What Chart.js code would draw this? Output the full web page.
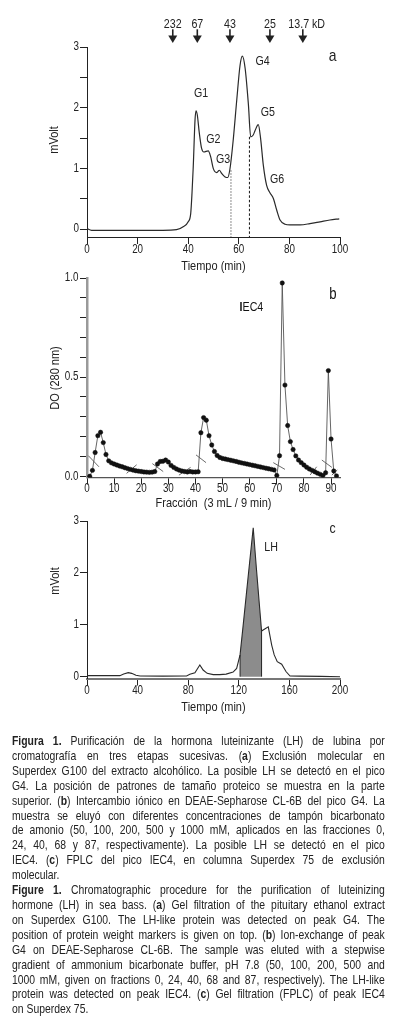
<!DOCTYPE html>
<html>
<head>
<meta charset="utf-8">
<script src="https://cdn.jsdelivr.net/npm/chart.js@4.4.1/dist/chart.umd.min.js"></script>
<style>
  body { margin: 0; background: #fff; width: 397px; height: 1035px; position: relative; overflow: hidden;
         font-family: "Liberation Sans", Arial, sans-serif; color: #222; }
  canvas { position: absolute; left: 0; }
  /* Liberation Sans squeezed to the width of Arial Narrow */
  #caption { position: absolute; left: 12px; top: 734px; width: 466px; font-size: 13px; line-height: 14.9px;
             transform: scaleX(0.8); transform-origin: 0 0; }
  #caption div { text-align: justify; text-align-last: justify; }
  #caption div.last { text-align-last: left; }
</style>
</head>
<body>
<canvas id="chartA" width="397" height="280" style="top:0px"></canvas>
<canvas id="chartB" width="397" height="250" style="top:262px"></canvas>
<canvas id="chartC" width="397" height="220" style="top:508px"></canvas>

<div id="caption">
  <div><b>Figura 1.</b> Purificación de la hormona luteinizante (LH) de lubina por</div>
  <div>cromatografía en tres etapas sucesivas. (<b>a</b>) Exclusión molecular en</div>
  <div>Superdex G100 del extracto alcohólico. La posible LH se detectó en el pico</div>
  <div>G4. La posición de patrones de tamaño proteico se muestra en la parte</div>
  <div>superior. (<b>b</b>) Intercambio iónico en DEAE-Sepharose CL-6B del pico G4. La</div>
  <div>muestra se eluyó con diferentes concentraciones de tampón bicarbonato</div>
  <div>de amonio (50, 100, 200, 500 y 1000 mM, aplicados en las fracciones 0,</div>
  <div>24, 40, 68 y 87, respectivamente). La posible LH se detectó en el pico</div>
  <div>IEC4. (<b>c</b>) FPLC del pico IEC4, en columna Superdex 75 de exclusión</div>
  <div class="last">molecular.</div>
  <div><b>Figure 1.</b> Chromatographic procedure for the purification of luteinizing</div>
  <div>hormone (LH) in sea bass. (<b>a</b>) Gel filtration of the pituitary ethanol extract</div>
  <div>on Superdex G100. The LH-like protein was detected on peak G4. The</div>
  <div>position of protein weight markers is given on top. (<b>b</b>) Ion-exchange of peak</div>
  <div>G4 on DEAE-Sepharose CL-6B. The sample was eluted with a stepwise</div>
  <div>gradient of ammonium bicarbonate buffer, pH 7.8 (50, 100, 200, 500 and</div>
  <div>1000 mM, given on fractions 0, 24, 40, 68 and 87, respectively). The LH-like</div>
  <div>protein was detected on peak IEC4. (<b>c</b>) Gel filtration (FPLC) of peak IEC4</div>
  <div class="last">on Superdex 75.</div>
</div>

<script>
// ---- panel a: Superdex G100 ----
const timeA = [0, 1.8, 10, 20, 30, 35.4, 38, 40, 41, 41.5, 42, 42.7, 43.1, 43.6, 44.4, 45.3, 46.2, 47.9, 48.9, 49.9,
  51.3, 52.3, 53.2, 54.6, 55.6, 56.5, 57.8, 59.2, 60.5, 61.4, 62.5, 63.8, 64.7, 65.7, 66.4, 67.7, 68.6, 69.7,
  71, 72.3, 73.7, 75, 76.3, 78.3, 80.2, 84.2, 88.1, 92.1, 96, 99.7];
const mvoltA = [0.01, -0.02, -0.02, -0.02, -0.02, -0.01, 0.04, 0.12, 0.26, 0.59, 1.03, 1.8, 1.95, 1.88, 1.58, 1.33, 1.27, 1.29, 1.19, 1.0,
  0.93, 0.97, 0.92, 0.86, 0.85, 0.99, 1.47, 2.13, 2.7, 2.85, 2.65, 2.05, 1.52, 1.55, 1.62, 1.72, 1.5, 1.05,
  0.72, 0.6, 0.5, 0.31, 0.15, 0.08, 0.07, 0.07, 0.09, 0.12, 0.15, 0.17];
const cutTime = [56.9, 64.2];
const cutTop = [0.97, 1.52];
const markerKd = ['232', '67', '43', '25', '13.7 kD'];
const markerTime = [33.9, 43.6, 56.5, 72.3, 85.3];
const peakNames = ['G1', 'G2', 'G3', 'G4', 'G5', 'G6'];
const peakLabelX = [45.1, 49.9, 53.8, 69.4, 71.5, 75.1];
const peakLabelY = [2.24, 1.47, 1.14, 2.77, 1.93, 0.82];

// ---- panel b: DEAE-Sepharose ----
const fractionB = [1, 2, 3, 4, 5, 6, 7, 8, 9, 10, 11, 12, 13, 14, 15, 16, 17, 18, 19, 20, 21, 22, 23, 24, 25, 26, 27, 28, 29, 30,
  31, 32, 33, 34, 35, 36, 37, 38, 39, 40, 41, 42, 43, 44, 45, 46, 47, 48, 49, 50, 51, 52, 53, 54, 55, 56, 57, 58, 59, 60,
  61, 62, 63, 64, 65, 66, 67, 68, 69, 70, 71, 72, 73, 74, 75, 76, 77, 78, 79, 80, 81, 82, 83, 84, 85, 86, 87, 88, 89, 90, 91, 92];
const odB = [0.000, 0.030, 0.120, 0.205, 0.222, 0.170, 0.110, 0.078, 0.068, 0.062, 0.057, 0.052, 0.048, 0.043, 0.039, 0.035,
  0.031, 0.028, 0.026, 0.024, 0.022, 0.021, 0.020, 0.021, 0.024, 0.062, 0.075, 0.076, 0.082, 0.072, 0.055, 0.045, 0.037,
  0.031, 0.027, 0.024, 0.022, 0.024, 0.022, 0.022, 0.023, 0.220, 0.296, 0.283, 0.205, 0.158, 0.125, 0.105, 0.095, 0.090,
  0.087, 0.084, 0.081, 0.078, 0.075, 0.071, 0.068, 0.065, 0.062, 0.059, 0.056, 0.053, 0.050, 0.047, 0.044, 0.041, 0.038,
  0.035, 0.032, 0.004, 0.104, 0.975, 0.460, 0.256, 0.175, 0.135, 0.103, 0.082, 0.069, 0.057, 0.046, 0.037, 0.030, 0.023,
  0.016, 0.010, 0.004, 0.018, 0.533, 0.188, 0.027, 0.002];
// buffer-step break marks: [x1, y1, x2, y2]
const breakMarks = [[0.5, 0.104, 4.4, 0.048], [14.6, 0.015, 18.3, 0.058], [24.1, 0.064, 28.1, 0.024],
  [33.9, 0.006, 38.2, 0.045], [40.2, 0.108, 43.9, 0.069], [68.7, 0.069, 73.0, 0.035],
  [82.3, 0.007, 84.7, 0.048], [86.6, 0.082, 90.3, 0.045], [90.3, 0.006, 92.3, 0.032]];

// ---- panel c: Superdex 75 FPLC ----
const timeC = [0, 26, 29, 32.6, 35.3, 38.7, 42, 60, 78.7, 81.3, 85.3, 89.2, 91.8, 95, 99.7, 105, 110, 115.5, 118.3,
  121, 123.4, 127.4, 131.4, 133.9, 136.6, 138, 140.5, 143.3, 146, 148, 150.4, 153.9, 157.3, 160.5, 168, 185, 200];
const mvoltC = [0.02, 0.02, 0.05, 0.077, 0.064, 0.026, 0.013, 0.01, 0.013, 0.045, 0.077, 0.225, 0.128, 0.064, 0.04, 0.04,
  0.05, 0.09, 0.16, 0.42, 0.98, 1.93, 2.87, 2.09, 1.29, 0.88, 0.92, 0.96, 0.61, 0.42, 0.29, 0.24, 0.1, 0.013, 0.01, 0.005, 0];
const lhRange = [121, 138];

const FONT = '"Liberation Sans", Arial, sans-serif';
const NARROW = 0.82;   // no Arial Narrow here, so squeeze the regular face
Chart.defaults.font.family = FONT;
Chart.defaults.color = '#222';
Chart.defaults.animation = false;

const pts = (xs, ys) => xs.map((x, i) => ({x: x, y: ys[i]}));

function narrowText(ctx, txt, x, y, size, align, weight, rot) {
  ctx.save();
  ctx.translate(x, y);
  if (rot) ctx.rotate(rot);
  ctx.scale(NARROW, 1);
  ctx.font = (weight ? weight + ' ' : '') + size + 'px ' + FONT;
  ctx.textAlign = align || 'center';
  ctx.textBaseline = 'middle';
  ctx.fillText(txt, 0, 0);
  const w = ctx.measureText(txt).width * NARROW;
  ctx.restore();
  return w;
}

function xScale(min, max, step, height) {
  return {
    type: 'linear', min: min, max: max,
    afterFit: s => { s.height = height; },
    border: {color: '#222', width: 1},
    grid: {drawOnChartArea: false, tickLength: 7, tickColor: '#222'},
    ticks: {display: false, stepSize: step, includeBounds: false, autoSkip: false}
  };
}

function yScale(min, max, step, label) {
  return {
    min: min, max: max,
    afterFit: s => { s.width = 40; },
    border: {color: '#222', width: 1},
    grid: {drawOnChartArea: false, tickLength: 7, tickColor: '#222'},
    ticks: {display: false, stepSize: step, includeBounds: false, autoSkip: false, callback: label}
  };
}

// tick labels and axis titles, placed from the chart's own scales
function axisText(cfg) {
  return {
    id: 'axisText',
    afterDraw(chart) {
      const {ctx, chartArea: area, scales: {x, y}} = chart;
      ctx.save();
      ctx.fillStyle = '#222';
      x.ticks.forEach(t => {
        const s = String(t.label);
        if (s !== '') narrowText(ctx, s, x.getPixelForValue(t.value), area.bottom + cfg.xLab, 12);
      });
      y.ticks.forEach(t => {
        const s = String(t.label);
        if (s !== '') narrowText(ctx, s, area.left - cfg.yLab, y.getPixelForValue(t.value), 12, 'right');
      });
      narrowText(ctx, cfg.xTitle, (area.left + area.right) / 2, area.bottom + cfg.xTitleOff, 13.4);
      narrowText(ctx, cfg.yTitle, cfg.yTitleX, cfg.yTitleY, 13.4, 'center', '', -Math.PI / 2);
      ctx.restore();
    }
  };
}

const baseOptions = pad => ({
  responsive: false, devicePixelRatio: 1,
  layout: {padding: pad},
  plugins: {legend: {display: false}, tooltip: {enabled: false}}
});

// ---------- a ----------
const cutSets = cutTime.map((t, i) => ({
  data: [{x: t, y: cutTop[i]}, {x: t, y: -0.13}],
  borderColor: i === 0 ? '#8a8a8a' : '#111',
  borderWidth: i === 0 ? 1.3 : 1,
  borderDash: i === 0 ? [1.5, 1.5] : [2.5, 2],
  pointRadius: 0
}));

const marksA = {
  id: 'marksA',
  afterDraw(chart) {
    const {ctx, scales: {x, y}} = chart;
    ctx.save();
    ctx.fillStyle = '#222';
    ctx.strokeStyle = '#222';
    peakNames.forEach((n, i) => narrowText(ctx, n, x.getPixelForValue(peakLabelX[i]), y.getPixelForValue(peakLabelY[i]), 13));
    markerTime.forEach((t, i) => {
      const px = x.getPixelForValue(t);
      if (i === markerTime.length - 1) narrowText(ctx, markerKd[i], px - 14.5, 24.7, 13, 'left');
      else narrowText(ctx, markerKd[i], px, 24.7, 13);
      ctx.lineWidth = 1.6;
      ctx.beginPath(); ctx.moveTo(px, 29.3); ctx.lineTo(px, 36.5); ctx.stroke();
      ctx.beginPath(); ctx.moveTo(px - 4.5, 35.5); ctx.lineTo(px + 4.5, 35.5); ctx.lineTo(px, 43); ctx.closePath(); ctx.fill();
    });
    narrowText(ctx, 'a', x.getPixelForValue(97.1), y.getPixelForValue(2.85), 17);
    ctx.restore();
  }
};

const optA = baseOptions({left: 47, right: 57, top: 47, bottom: 6});
optA.scales = {
  x: xScale(0, 100, 20, 37),
  y: yScale(-0.13, 3, 0.5, v => Number.isInteger(v) ? v : '')
};

new Chart(document.getElementById('chartA'), {
  type: 'line',
  data: {
    datasets: [{
      data: pts(timeA, mvoltA), borderColor: '#2a2a2a', borderWidth: 1.2, pointRadius: 0,
      cubicInterpolationMode: 'monotone'
    }].concat(cutSets)
  },
  options: optA,
  plugins: [marksA, axisText({xLab: 13, yLab: 8, xTitle: 'Tiempo (min)', xTitleOff: 29, yTitle: 'mVolt', yTitleX: 54.5, yTitleY: 140})]
});

// ---------- b ----------
const breakSets = breakMarks.map(m => ({
  data: [{x: m[0], y: m[1]}, {x: m[2], y: m[3]}],
  borderColor: '#444', borderWidth: 0.8, pointRadius: 0
}));

const marksB = {
  id: 'marksB',
  afterDraw(chart) {
    const {ctx, scales: {x, y}} = chart;
    ctx.save();
    ctx.fillStyle = '#111';
    const px = x.getPixelForValue(56.2), py = y.getPixelForValue(0.85);
    const w = narrowText(ctx, 'I', px, py, 13, 'left', 'bold');
    narrowText(ctx, 'EC4', px + w + 0.2, py, 13, 'left');
    narrowText(ctx, 'b', x.getPixelForValue(90.7), y.getPixelForValue(0.915), 16);
    ctx.restore();
  }
};

const optB = baseOptions({left: 47, right: 57, top: 16, bottom: 1});
optB.scales = {
  x: xScale(0, 93.3, 10, 33.5),
  y: yScale(-0.006, 1.0, 0.1, v => Math.abs(v * 2 - Math.round(v * 2)) < 1e-6 ? v.toFixed(1) : '')
};
optB.scales.x.border = {color: '#555', width: 1.3};
optB.scales.y.border = {color: '#9a9a9a', width: 2.5};

new Chart(document.getElementById('chartB'), {
  type: 'line',
  data: {
    datasets: [{
      data: pts(fractionB, odB), borderColor: '#555', borderWidth: 0.9, tension: 0,
      pointRadius: 2.2, pointBackgroundColor: '#111', pointBorderColor: '#111', pointBorderWidth: 0.5
    }].concat(breakSets)
  },
  options: optB,
  plugins: [marksB, axisText({xLab: 10.8, yLab: 8.5, xTitle: 'Fracción  (3 mL / 9 min)', xTitleOff: 25.5,
    yTitle: 'DO (280 nm)', yTitleX: 55, yTitleY: 116})]
});

// ---------- c ----------
const lhIdx = timeC.map((t, i) => i).filter(i => timeC[i] >= lhRange[0] && timeC[i] <= lhRange[1]);
const lhEdges = [lhIdx[0], lhIdx[lhIdx.length - 1]].map(i => ({
  data: [{x: timeC[i], y: 0}, {x: timeC[i], y: mvoltC[i]}],
  borderColor: '#222', borderWidth: 1, pointRadius: 0, order: 0
}));

const marksC = {
  id: 'marksC',
  afterDraw(chart) {
    const {ctx, scales: {x, y}} = chart;
    ctx.save();
    ctx.fillStyle = '#222';
    narrowText(ctx, 'LH', x.getPixelForValue(145.5), y.getPixelForValue(2.5), 13);
    narrowText(ctx, 'c', x.getPixelForValue(194.2), y.getPixelForValue(2.84), 15);
    ctx.restore();
  }
};

const optC = baseOptions({left: 47, right: 57, top: 13, bottom: 13});
optC.scales = {
  x: xScale(0, 200, 40, 36.5),
  y: yScale(-0.035, 3, 1, v => v)
};
optC.scales.x.border = {color: '#777', width: 2};
optC.plugins.filler = {propagate: false};

new Chart(document.getElementById('chartC'), {
  type: 'line',
  data: {
    datasets: [{
      data: pts(timeC, mvoltC), borderColor: '#2a2a2a', borderWidth: 1.1, pointRadius: 0, tension: 0, order: 0
    }, {
      data: lhIdx.map(i => ({x: timeC[i], y: mvoltC[i]})), borderWidth: 0, pointRadius: 0,
      fill: 'origin', backgroundColor: '#8c8c8c', order: 1
    }].concat(lhEdges)
  },
  options: optC,
  plugins: [marksC, axisText({xLab: 12.3, yLab: 8, xTitle: 'Tiempo (min)', xTitleOff: 28.5, yTitle: 'mVolt', yTitleX: 55, yTitleY: 73})]
});
</script>
</body>
</html>
